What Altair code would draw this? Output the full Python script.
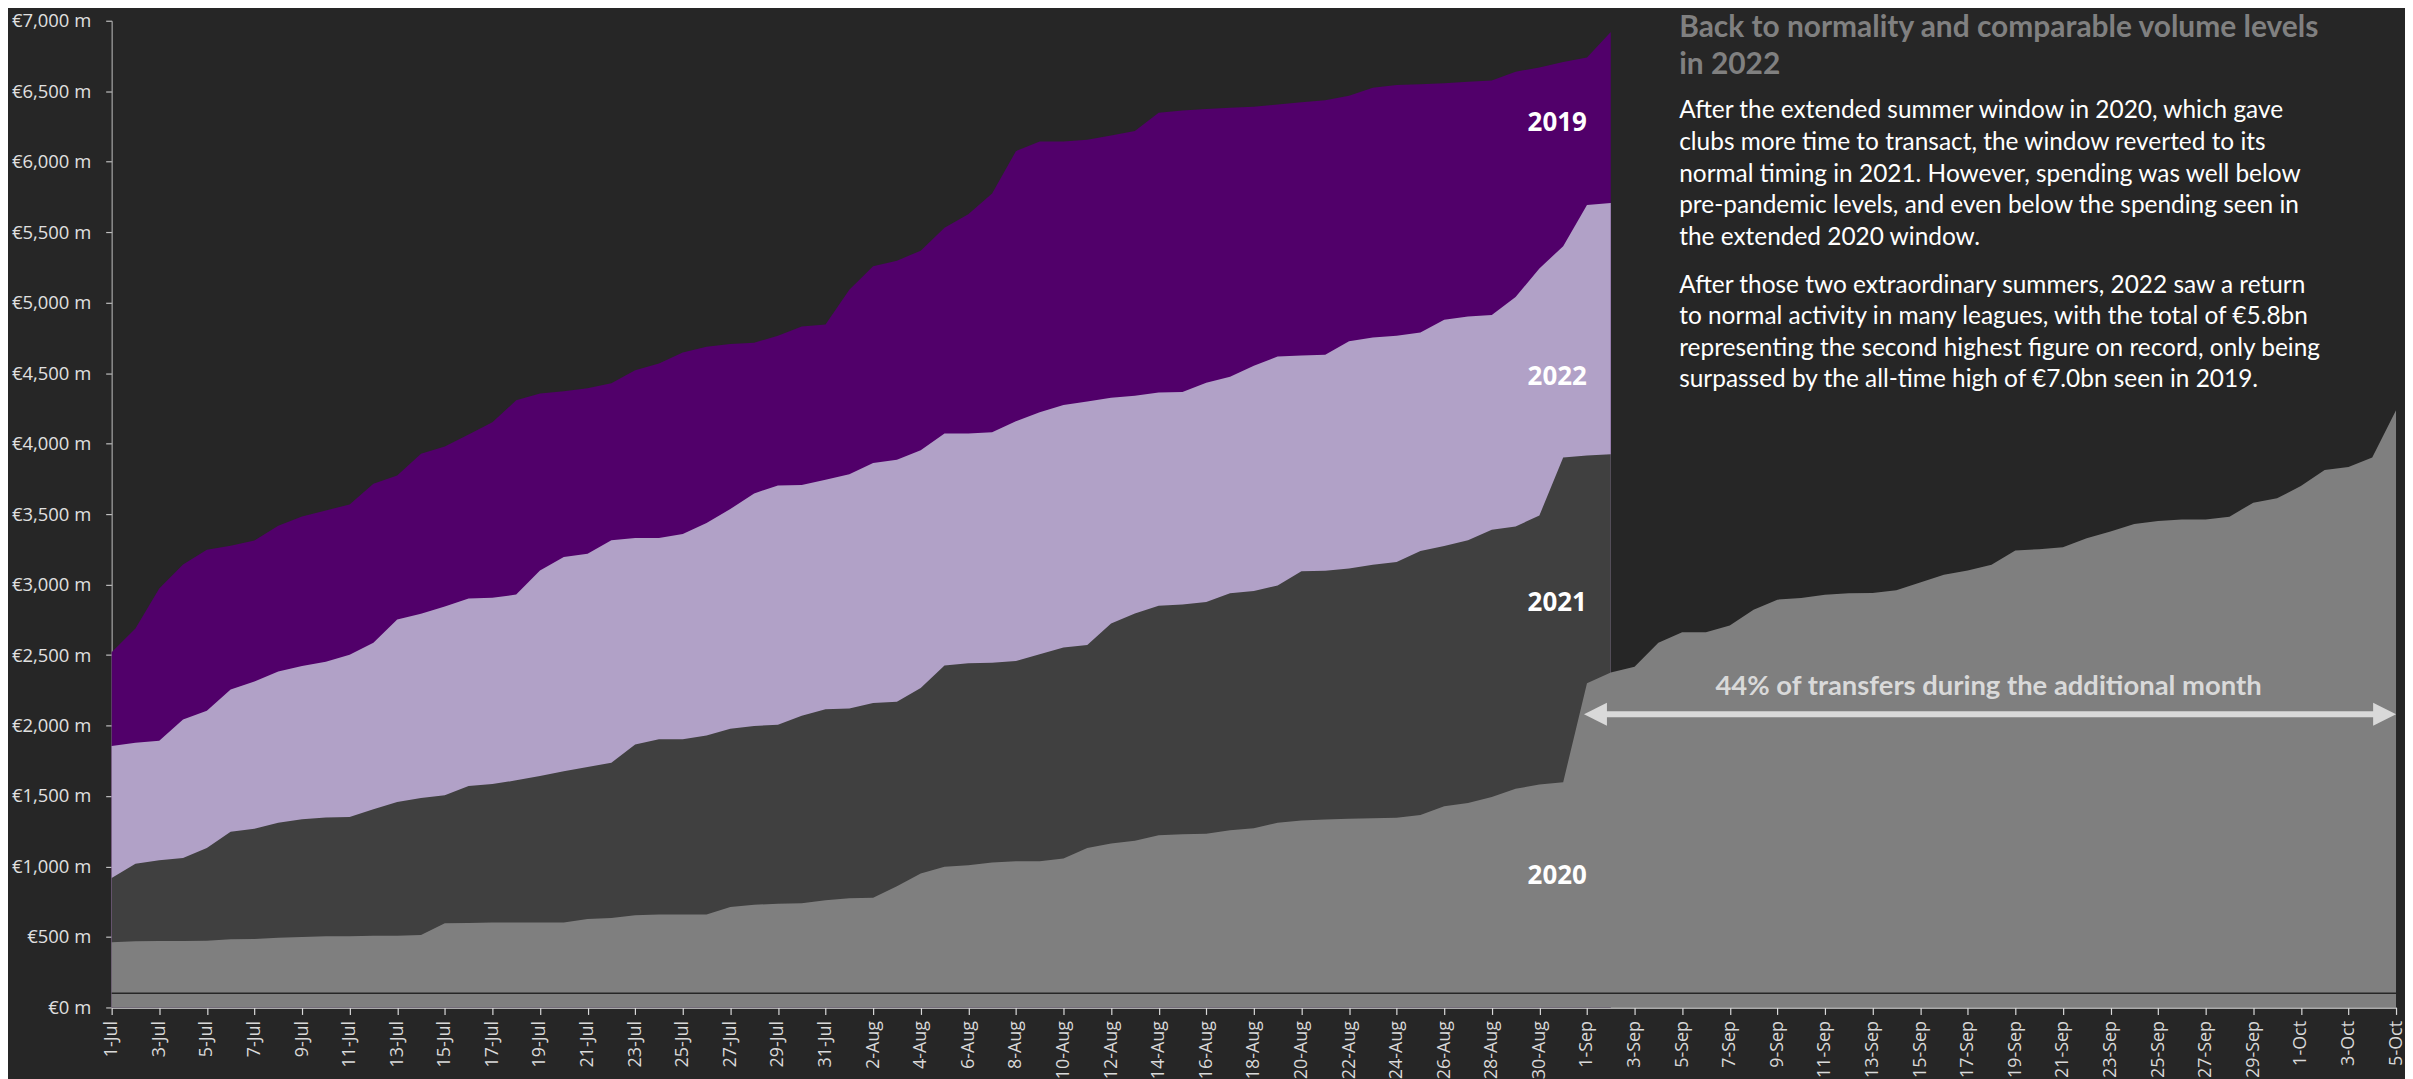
import altair as alt
import pandas as pd

# ---------------- data ----------------
dates = pd.date_range("2020-07-01", "2020-10-05", freq="D")   # 1-Jul .. 5-Oct (category axis)

v2019 = [2520, 2688, 2972, 3142, 3247, 3276, 3313, 3418, 3483, 3526,
         3568, 3716, 3773, 3929, 3980, 4065, 4151, 4307, 4355, 4372,
         4392, 4429, 4520, 4568, 4647, 4687, 4707, 4715, 4766, 4830,
         4845, 5091, 5258, 5298, 5369, 5532, 5627, 5774, 6075, 6143,
         6143, 6155, 6186, 6218, 6347, 6363, 6374, 6382, 6390, 6405,
         6421, 6436, 6467, 6525, 6545, 6549, 6556, 6568, 6576, 6638,
         6669, 6708, 6739, 6921]

v2022 = [1855, 1878, 1892, 2043, 2105, 2256, 2313, 2384, 2423, 2452,
         2503, 2588, 2753, 2793, 2844, 2901, 2906, 2929, 3100, 3196,
         3219, 3315, 3330, 3330, 3358, 3437, 3536, 3647, 3703, 3707,
         3743, 3782, 3862, 3885, 3953, 4072, 4072, 4080, 4159, 4223,
         4274, 4298, 4326, 4340, 4362, 4366, 4432, 4474, 4552, 4618,
         4626, 4630, 4726, 4753, 4765, 4788, 4878, 4901, 4913, 5040,
         5242, 5401, 5692, 5707]

v2021 = [918, 1020, 1045, 1060, 1131, 1247, 1267, 1310, 1335, 1347,
         1352, 1406, 1457, 1486, 1506, 1571, 1585, 1611, 1642, 1676,
         1705, 1736, 1865, 1902, 1902, 1930, 1977, 1997, 2005, 2069,
         2116, 2120, 2160, 2168, 2267, 2426, 2441, 2445, 2457, 2505,
         2553, 2572, 2723, 2795, 2850, 2858, 2877, 2939, 2955, 2993,
         3094, 3098, 3114, 3141, 3160, 3238, 3273, 3315, 3389, 3412,
         3490, 3901, 3916, 3924]

v2020 = [463, 469, 472, 472, 474, 483, 486, 494, 500, 506,
         506, 509, 509, 514, 597, 599, 602, 602, 602, 602,
         628, 634, 654, 660, 660, 660, 712, 728, 736, 740,
         760, 775, 779, 859, 950, 998, 1009, 1029, 1037, 1037,
         1057, 1132, 1164, 1183, 1222, 1229, 1233, 1257, 1272, 1311,
         1326, 1334, 1338, 1342, 1346, 1365, 1427, 1450, 1493, 1551,
         1582, 1598, 2300, 2376, 2417, 2587, 2662, 2662, 2709, 2822,
         2893, 2905, 2928, 2938, 2940, 2959, 3015, 3070, 3100, 3140,
         3242, 3251, 3265, 3329, 3376, 3430, 3451, 3461, 3461, 3482,
         3581, 3612, 3699, 3812, 3835, 3901, 4236]

y_ticks = list(range(0, 7001, 500))

year_labels = ["2019", "2022", "2021", "2020"]
year_label_values = [6272, 4474, 2870, 935]
year_label_date = "2020-08-30T18:00:00Z"

arrow_text = "44% of transfers during the additional month"
arrow_text_date = "2020-09-17T21:00:00Z"
arrow_text_value = 2271
arrow_value = 2080
arrow_tip_left = "2020-08-31T21:00:00Z"
arrow_tip_right = "2020-10-05T00:00:00Z"
arrow_shaft = ["2020-09-01T09:00:00Z", "2020-10-04T12:00:00Z"]

text_date = "2020-09-04T21:00:00Z"
title_lines = ["Back to normality and comparable volume levels", "in 2022"]
title_values = [6946, 6687]
body_lines = [
    "After the extended summer window in 2020, which gave",
    "clubs more time to transact, the window reverted to its",
    "normal timing in 2021. However, spending was well below",
    "pre-pandemic levels, and even below the spending seen in",
    "the extended 2020 window.",
    "After those two extraordinary summers, 2022 saw a return",
    "to normal activity in many leagues, with the total of €5.8bn",
    "representing the second highest figure on record, only being",
    "surpassed by the all-time high of €7.0bn seen in 2019.",
]
body_values = [6357, 6133, 5909, 5685, 5457, 5118, 4896, 4672, 4448]

colors = {"2019": "#51006A", "2022": "#B1A1C7", "2021": "#404040", "2020": "#7F7F7F"}
BG = "#262626"

# ---------------- helpers ----------------
def series_df(vals):
    return pd.DataFrame({"date": dates[: len(vals)].strftime("%Y-%m-%d"), "value": vals})

tick_ms = [int(d.value // 10**6) for d in dates]
T0 = tick_ms[0]

x_axis = alt.Axis(
    title=None, values=tick_ms, grid=False,
    labelExpr=f"round((datum.value - {T0}) / 86400000) % 2 == 0 ? utcFormat(datum.value, '%-d-%b') : ''",
    labelAngle=270, labelFont="Open Sans", labelFontSize=18, labelColor="#d9d9d9",
    labelPadding=6, labelOverlap=False, labelFlush=False, labelBound=False,
    tickSize=7, tickColor="#d9d9d9", tickWidth=1.2,
    domainColor="#d9d9d9", domainWidth=1.5,
)
y_axis = alt.Axis(
    title=None, values=y_ticks, grid=False,
    labelExpr="'€' + format(datum.value, ',') + ' m'",
    labelFont="Open Sans", labelFontSize=18.5, labelColor="#e0e0e0", labelPadding=15,
    tickSize=6, tickColor="#bfbfbf", tickWidth=1.2,
    domainColor="#a6a6a6", domainWidth=1.2,
)
x_enc = alt.X("date:T", scale=alt.Scale(type="utc", domain=[tick_ms[0], tick_ms[-1]]), axis=x_axis)
y_enc = alt.Y("value:Q", scale=alt.Scale(domain=[0, 7000], nice=False, zero=True), axis=y_axis)


def area(vals, col):
    return alt.Chart(series_df(vals)).mark_area(color=col, opacity=1, interpolate="linear").encode(
        x=alt.X("date:T"), y=alt.Y("value:Q")
    )

base = alt.Chart(series_df(v2019)).mark_area(color=colors["2019"], opacity=1).encode(x=x_enc, y=y_enc)
a2022 = area(v2022, colors["2022"])
a2021 = area(v2021, colors["2021"])
a2020 = area(v2020, colors["2020"])

floor_line = alt.Chart(pd.DataFrame({"date": [dates[0].strftime("%Y-%m-%d"), dates[-1].strftime("%Y-%m-%d")],
                                     "value": [100, 100]})).mark_line(color=BG, strokeWidth=1.5).encode(
    x="date:T", y="value:Q")

years = alt.Chart(pd.DataFrame({"date": [year_label_date] * 4, "value": year_label_values,
                                "label": year_labels})).mark_text(
    font="Open Sans", fontWeight="bold", fontSize=26, color="white", align="center", baseline="middle"
).encode(x="date:T", y="value:Q", text="label:N")

shaft = alt.Chart(pd.DataFrame({"date": [arrow_shaft[0]], "date2": [arrow_shaft[1]], "value": [arrow_value]})).mark_rule(
    color="#d9d9d9", strokeWidth=6).encode(x="date:T", x2="date2:T", y="value:Q")
head_l = alt.Chart(pd.DataFrame({"date": [arrow_tip_left], "value": [arrow_value]})).mark_point(
    shape="M0,0L2,-1L2,1Z", filled=True, size=529, color="#d9d9d9", opacity=1, strokeWidth=0
).encode(x="date:T", y="value:Q")
head_r = alt.Chart(pd.DataFrame({"date": [arrow_tip_right], "value": [arrow_value]})).mark_point(
    shape="M0,0L-2,-1L-2,1Z", filled=True, size=529, color="#d9d9d9", opacity=1, strokeWidth=0
).encode(x="date:T", y="value:Q")
arrow_label = alt.Chart(pd.DataFrame({"date": [arrow_text_date], "value": [arrow_text_value],
                                      "label": [arrow_text]})).mark_text(
    font="Lato", fontWeight="bold", fontSize=27.5, color="#d9d9d9", align="center", baseline="middle"
).encode(x="date:T", y="value:Q", text="label:N")

title = alt.Chart(pd.DataFrame({"date": [text_date] * 2, "value": title_values, "label": title_lines})).mark_text(
    font="Lato", fontWeight="bold", fontSize=30, color="#808080", align="left", baseline="middle"
).encode(x="date:T", y="value:Q", text="label:N")
body = alt.Chart(pd.DataFrame({"date": [text_date] * len(body_lines), "value": body_values,
                               "label": body_lines})).mark_text(
    font="Lato", fontSize=24.5, color="white", align="left", baseline="middle"
).encode(x="date:T", y="value:Q", text="label:N")

chart = alt.layer(
    base, a2022, a2021, a2020, floor_line, years, shaft, head_l, head_r, arrow_label, title, body
).properties(
    width=2292, height=990,
    autosize=alt.AutoSizeParams(type="none"),
    padding={"left": 104, "top": 11, "right": 9, "bottom": 70},
    background=BG,
    usermeta={"embedOptions": {"defaultStyle": "html, body {background: #262626 !important;}"}},
).configure_view(stroke=None)

chart.save("out.html", embed_options={"renderer": "svg", "actions": False})
